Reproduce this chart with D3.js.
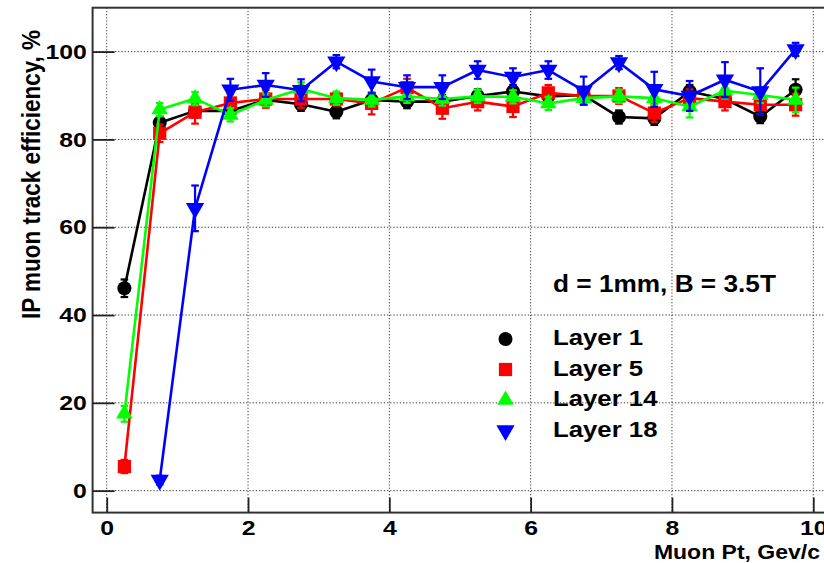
<!DOCTYPE html>
<html>
<head>
<meta charset="utf-8">
<script src="https://cdn.jsdelivr.net/npm/d3@7/dist/d3.min.js"></script>
<style>
  html, body { margin: 0; padding: 0; background: #fff; }
  svg { display: block; }
  text { font-family: "Liberation Sans", Arial, Helvetica, sans-serif; font-weight: bold; fill: #000; }
</style>
</head>
<body>
<svg id="chart" width="824" height="563"></svg>
<script>
// Muon transverse-momentum bins (bin centres, GeV/c)
const ptBins = [0.25, 0.75, 1.25, 1.75, 2.25, 2.75, 3.25, 3.75, 4.25, 4.75,
                5.25, 5.75, 6.25, 6.75, 7.25, 7.75, 8.25, 8.75, 9.25, 9.75];

// Track efficiency (%) per layer, with statistical errors
const layer1    = [46.1, 83.8, 86.5, 86.5, 89.0, 88.0, 86.3, 89.0, 88.6, 88.6,
                   89.9, 90.9, 89.8, 90.1, 85.1, 84.8, 90.9, 89.2, 85.2, 91.3];
const layer1Err = [2.0, 1.5, 1.5, 1.5, 1.5, 1.5, 1.5, 1.5, 1.5, 1.5,
                   1.5, 1.5, 1.5, 1.5, 1.5, 1.5, 1.5, 1.5, 1.5, 2.4];
const layer5    = [5.5, 81.4, 86.2, 88.3, 89.2, 89.2, 89.2, 88.2, 91.8, 87.1,
                   88.6, 87.5, 90.6, 89.9, 89.9, 86.0, 89.4, 88.6, 87.9, 87.9];
const layer5Err = [1.5, 2.0, 2.6, 2.0, 2.0, 2.0, 1.5, 2.5, 2.0, 2.4,
                   2.0, 2.4, 1.8, 2.0, 1.8, 2.0, 2.0, 2.0, 2.2, 2.5];
const layer14    = [17.5, 86.8, 89.3, 85.6, 89.0, 91.5, 89.4, 89.0, 89.8, 89.2,
                    89.8, 89.7, 88.2, 89.4, 89.8, 89.4, 87.5, 91.1, 90.1, 89.0];
const layer14Err = [1.8, 1.5, 1.5, 1.5, 1.5, 1.5, 1.5, 1.5, 1.5, 1.5,
                    1.5, 1.5, 1.5, 1.5, 1.5, 1.5, 2.5, 1.8, 1.8, 2.8];
const layer18    = [null, 2.4, 64.3, 91.3, 92.4, 91.2, 97.7, 93.2, 91.9, 91.9,
                    95.8, 94.2, 95.8, 91.1, 97.5, 91.4, 89.9, 93.6, 90.9, 100.5];
const layer18Err = [null, 1.0, 5.2, 2.5, 2.7, 2.5, 1.5, 2.7, 2.7, 2.7,
                    2.0, 2.0, 2.0, 3.2, 1.5, 4.0, 3.4, 4.0, 5.3, 1.5];

const seriesNames  = ["Layer 1", "Layer 5", "Layer 14", "Layer 18"];
const seriesColors = ["#000000", "#ff0000", "#00ff00", "#0000ff"];
const seriesShapes = ["circle", "square", "triangle-up", "triangle-down"];
const seriesValues = [layer1, layer5, layer14, layer18];
const seriesErrors = [layer1Err, layer5Err, layer14Err, layer18Err];

const annotation = "d = 1mm, B = 3.5T";
const xTitle = "Muon Pt, Gev/c";
const yTitle = "IP muon track efficiency, %";

const xMajor = [0, 2, 4, 6, 8, 10];
const xMinor = d3.range(0, 10.01, 0.5);
const yMajor = [0, 20, 40, 60, 80, 100];
const yMinor = d3.range(-5, 110.01, 5);

// ---- layout ----
const svg = d3.select("#chart");
const x = d3.scaleLinear().domain([-0.2, 10.2]).range([92.6, 827.4]);
const y = d3.scaleLinear().domain([-5, 110]).range([512.6, 7.7]);
const stretch = 1.18;   // glyphs are drawn slightly wide

const [x0, x1] = x.range();
const [yb, yt] = y.range();

// dotted grid
const grid = svg.append("g").attr("stroke", "#333").attr("stroke-width", 1)
  .attr("stroke-dasharray", "1.2,2");
grid.selectAll("line.gx").data(xMajor).join("line")
  .attr("x1", d => x(d)).attr("x2", d => x(d)).attr("y1", yt).attr("y2", yb);
grid.selectAll("line.gy").data(yMajor).join("line")
  .attr("x1", x0).attr("x2", x1).attr("y1", d => y(d)).attr("y2", d => y(d));

// frame
svg.append("rect").attr("x", x0).attr("y", yt).attr("width", x1 - x0).attr("height", yb - yt)
  .attr("fill", "none").attr("stroke", "#333").attr("stroke-width", 2);

// axes: ticks point inside the frame
const xAxisG = svg.append("g").attr("transform", `translate(0,${yb})`);
xAxisG.call(d3.axisBottom(x).tickValues(xMinor).tickSize(-7.5).tickFormat(""));
xAxisG.call(d3.axisBottom(x).tickValues(xMajor).tickSize(-15).tickPadding(7.5).tickFormat(d3.format("d")));
xAxisG.selectAll(".domain").remove();
xAxisG.selectAll("line").attr("stroke", "#222").attr("stroke-width", 1.8);
xAxisG.selectAll("text").attr("font-size", 21).attr("transform", `scale(${stretch},1)`);

const yAxisG = svg.append("g").attr("transform", `translate(${x0},0)`);
yAxisG.call(d3.axisLeft(y).tickValues(yMinor).tickSize(-10.5).tickFormat(""));
yAxisG.call(d3.axisLeft(y).tickValues(yMajor).tickSize(-22).tickPadding(5).tickFormat(d3.format("d")));
yAxisG.selectAll(".domain").remove();
yAxisG.selectAll("line").attr("stroke", "#222").attr("stroke-width", 1.8);
yAxisG.selectAll("text").attr("font-size", 21).attr("transform", `scale(${stretch},1)`);

// axis titles
svg.append("text").attr("transform", `translate(820,559.3) scale(${stretch},1)`)
  .attr("text-anchor", "end").attr("font-size", 19.5).text(xTitle);
svg.append("text").attr("transform", `translate(40,30) scale(${stretch},1) rotate(-90)`)
  .attr("text-anchor", "end").attr("font-size", 22.5).text(yTitle);

// marker symbols
const symbolFor = {
  "circle":        d3.symbol(d3.symbolCircle, 155),
  "square":        d3.symbol(d3.symbolSquare, 175),
  "triangle-up":   d3.symbol(d3.symbolTriangle, 120),
  "triangle-down": d3.symbol(d3.symbolTriangle, 145)
};
function drawMarker(g, shape, color, cx, cy) {
  const rot = shape === "triangle-down" ? " rotate(180)" : "";
  g.append("path").attr("d", symbolFor[shape]())
    .attr("transform", `translate(${cx},${cy})${rot}`)
    .attr("fill", color);
}

// series: line, error bars, markers
seriesValues.forEach((vals, i) => {
  const color = seriesColors[i];
  const pts = ptBins.map((p, k) => ({ p, v: vals[k], e: seriesErrors[i][k] }))
                    .filter(d => d.v !== null);
  const g = svg.append("g");
  g.append("path").datum(pts)
    .attr("d", d3.line().x(d => x(d.p)).y(d => y(d.v)))
    .attr("fill", "none").attr("stroke", color).attr("stroke-width", 2.6)
    .attr("stroke-linejoin", "round");
  const eb = g.append("g").attr("stroke", color).attr("stroke-width", 2.2);
  pts.forEach(d => {
    eb.append("line").attr("x1", x(d.p)).attr("x2", x(d.p))
      .attr("y1", y(d.v - d.e)).attr("y2", y(d.v + d.e));
    [d.v - d.e, d.v + d.e].forEach(v => {
      eb.append("line").attr("x1", x(d.p) - 3.8).attr("x2", x(d.p) + 3.8)
        .attr("y1", y(v)).attr("y2", y(v));
    });
  });
  pts.forEach(d => drawMarker(g, seriesShapes[i], color, x(d.p), y(d.v)));
});

// legend
const legend = svg.append("g");
legend.append("text").attr("transform", `translate(553,291.5) scale(1.14,1)`)
  .attr("font-size", 23).text(annotation);
seriesNames.forEach((name, i) => {
  const base = 345 + i * 30.5;
  drawMarker(legend, seriesShapes[i], seriesColors[i], 505.5, base - 6);
  legend.append("text").attr("transform", `translate(553,${base}) scale(1.12,1)`)
    .attr("font-size", 23).text(name);
});
</script>
</body>
</html>
